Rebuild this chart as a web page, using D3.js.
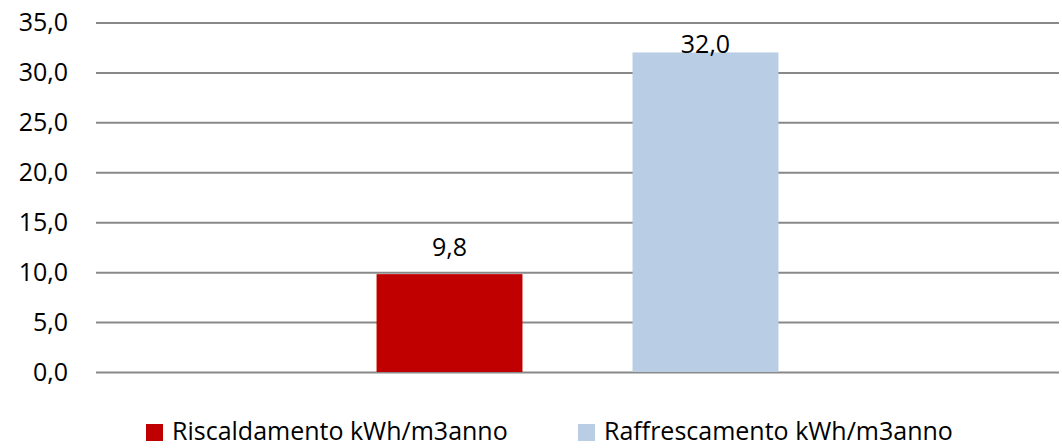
<!DOCTYPE html>
<html>
<head>
<meta charset="utf-8">
<script src="https://cdn.jsdelivr.net/npm/d3@7"></script>
<style>
  body { margin: 0; background: #fff; }
  text { font-family: "Open Sans", sans-serif; fill: #000; }
</style>
</head>
<body>
<svg id="chart" width="1062" height="448"></svg>
<script>
// chart data
var series = ["Riscaldamento kWh/m3anno", "Raffrescamento kWh/m3anno"];
var values = [9.8, 32.0];
var colors = ["#c00000", "#b9cde5"];
var yTicks = [0, 5, 10, 15, 20, 25, 30, 35];

var svg = d3.select("#chart"),
    width = +svg.attr("width"),
    height = +svg.attr("height");

var fmt = function (v) { return d3.format(".1f")(v).replace(".", ","); };

// scales
var y = d3.scaleLinear()
    .domain([0, 35])
    .range([372, 22.5]);

var x = d3.scaleBand()
    .domain(series)
    .range([96, 1059])
    .paddingInner(0.43)
    .paddingOuter(1.096);

// gridlines + y labels
var yAxis = d3.axisLeft(y)
    .tickValues(yTicks)
    .tickSize(-(1059 - 96))
    .tickPadding(28)
    .tickFormat(fmt);

var gy = svg.append("g")
    .attr("transform", "translate(96,0)")
    .call(yAxis);
gy.select(".domain").remove();
gy.selectAll(".tick line")
    .attr("stroke", "#898989")
    .attr("stroke-width", 2);
gy.selectAll(".tick text")
    .style("font-size", "25px")
    .attr("fill", "#000");

// bars
svg.append("g")
    .selectAll("rect")
    .data(values)
    .enter()
    .append("rect")
    .attr("x", function (d, i) { return x(series[i]); })
    .attr("y", function (d) { return y(d); })
    .attr("width", x.bandwidth())
    .attr("height", function (d) { return y(0) - y(d); })
    .attr("fill", function (d, i) { return colors[i]; });

// data labels
svg.append("g")
    .selectAll("text")
    .data(values)
    .enter()
    .append("text")
    .attr("x", function (d, i) { return x(series[i]) + x.bandwidth() / 2; })
    .attr("y", function (d) { return Math.max(y(d) - 18, y(35) + 30); })
    .attr("text-anchor", "middle")
    .style("font-size", "25px")
    .text(fmt);

// legend
var legendX = [146, 578];
var leg = svg.append("g")
    .selectAll("g")
    .data(series)
    .enter()
    .append("g")
    .attr("transform", function (d, i) { return "translate(" + legendX[i] + ",424)"; });

leg.append("rect")
    .attr("width", 17)
    .attr("height", 17)
    .attr("fill", function (d, i) { return colors[i]; });

leg.append("text")
    .attr("x", 26)
    .attr("y", 16)
    .style("font-size", "25px")
    .text(function (d) { return d; });
</script>
</body>
</html>
